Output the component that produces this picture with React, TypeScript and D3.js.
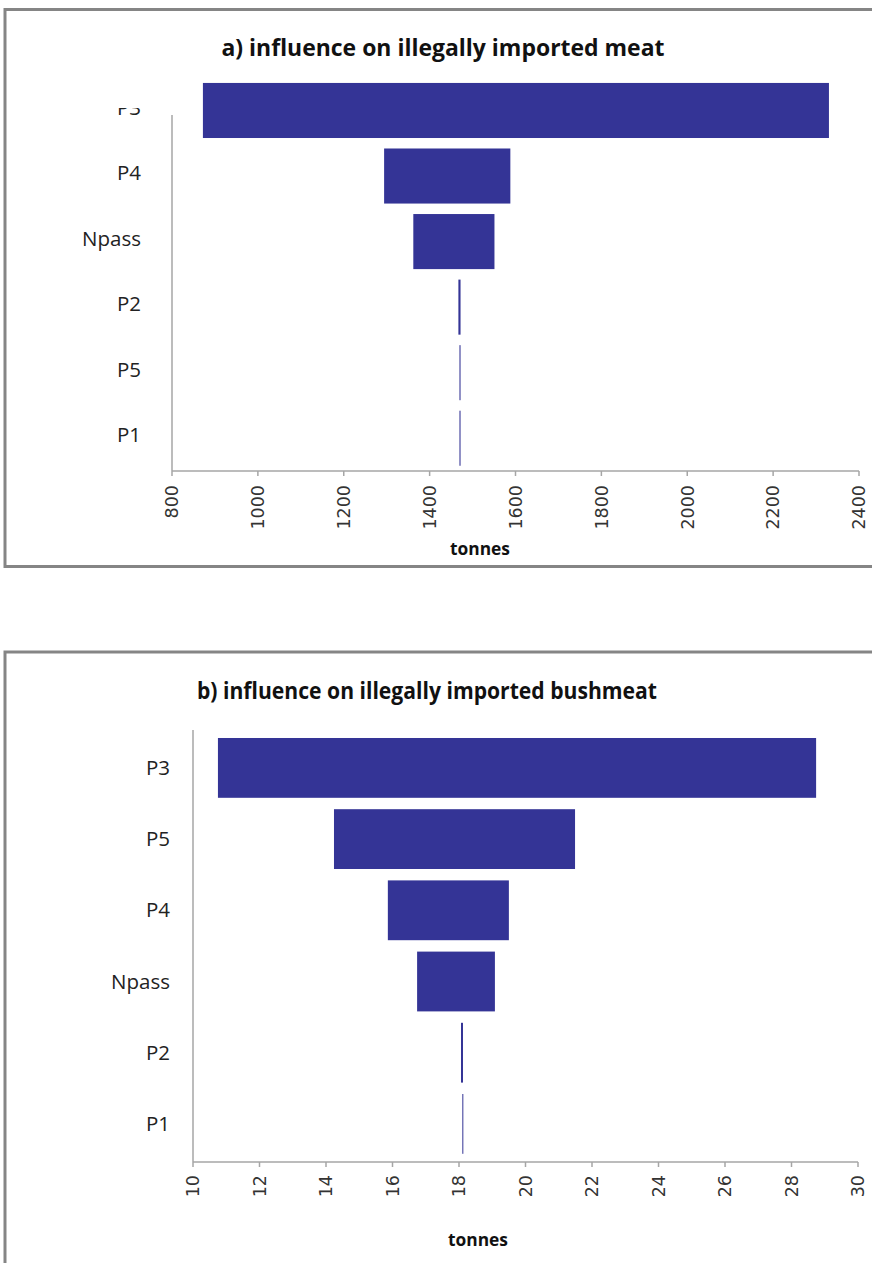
import React from "react";
import * as d3 from "d3";

// ---- Data ----
const meatParams = ["P3", "P4", "Npass", "P2", "P5", "P1"];
const meatLow = [872, 1294, 1362, 1467, 1469.5, 1469.5];
const meatHigh = [2330, 1588, 1551, 1472, 1472, 1472];
const meatTicks = [800, 1000, 1200, 1400, 1600, 1800, 2000, 2200, 2400];

const bushParams = ["P3", "P5", "P4", "Npass", "P2", "P1"];
const bushLow = [10.75, 14.24, 15.86, 16.74, 18.06, 18.1];
const bushHigh = [28.74, 21.49, 19.5, 19.08, 18.12, 18.13];
const bushTicks = [10, 12, 14, 16, 18, 20, 22, 24, 26, 28, 30];

const BAR = "#343496";
const AXIS = "#a6a6a6";
const BORDER = "#858585";

type PanelProps = {
  title: string;
  titleX: number;
  titleY: number;
  titleLen: number;
  params: string[];
  low: number[];
  high: number[];
  ticks: number[];
  xDomain: [number, number];
  xRange: [number, number];
  yRange: [number, number];
  axisY: number;
  axisTop: number;
  labelX: number;
  labelShift: number;
  tickLabelGap: number;
  unitY: number;
  unitX: number;
  clipTop?: number;
  id: string;
};

function Panel(p: PanelProps) {
  const x = d3.scaleLinear().domain(p.xDomain).range(p.xRange);
  const y = d3
    .scaleBand<string>()
    .domain(p.params)
    .range(p.yRange)
    .paddingInner(0.16)
    .paddingOuter(0.08);
  const [x0, x1] = p.xRange;
  return (
    <g>
      <text
        x={p.titleX}
        y={p.titleY}
        textAnchor="middle"
        fontFamily="'Open Sans', sans-serif"
        fontWeight={700}
        fontSize={24}
        fill="#111"
        textLength={p.titleLen}
        lengthAdjust="spacingAndGlyphs"
      >
        {p.title}
      </text>
      {p.clipTop !== undefined && (
        <clipPath id={p.id + "-clip"}>
          <rect x={0} y={p.clipTop} width={872} height={2000} />
        </clipPath>
      )}
      {p.params.map((name) => (
        <text
          key={"l" + name}
          x={p.labelX}
          y={(y(name) as number) + y.bandwidth() / 2 + p.labelShift}
          dy="0.35em"
          textAnchor="end"
          fontFamily="'Open Sans', sans-serif"
          fontSize={20.5}
          fill="#222"
          clipPath={p.clipTop !== undefined ? `url(#${p.id}-clip)` : undefined}
        >
          {name}
        </text>
      ))}
      <line x1={x0} x2={x0} y1={p.axisTop} y2={p.axisY} stroke={AXIS} strokeWidth={1.5} />
      <line x1={x0} x2={x1} y1={p.axisY} y2={p.axisY} stroke={AXIS} strokeWidth={1.5} />
      {p.ticks.map((t) => (
        <g key={"t" + t}>
          <line x1={x(t)} x2={x(t)} y1={p.axisY} y2={p.axisY + 5} stroke={AXIS} strokeWidth={1.5} />
          <text
            transform={`translate(${x(t)},${p.axisY + p.tickLabelGap}) rotate(-90)`}
            textAnchor="end"
            dy="0.36em"
            fontFamily="'DejaVu Sans', sans-serif"
            fontSize={17.5}
            fill="#333"
          >
            {t}
          </text>
        </g>
      ))}
      {p.params.map((name, i) => (
        <rect
          key={"b" + name}
          x={x(p.low[i])}
          y={y(name) as number}
          width={x(p.high[i]) - x(p.low[i])}
          height={y.bandwidth()}
          fill={BAR}
        />
      ))}
      <text
        x={p.unitX}
        y={p.unitY}
        textAnchor="middle"
        fontFamily="'Open Sans', sans-serif"
        fontWeight={700}
        fontSize={17}
        fill="#111"
        textLength={60}
        lengthAdjust="spacingAndGlyphs"
      >
        tonnes
      </text>
    </g>
  );
}

export default function App() {
  return (
    <svg
      width={872}
      height={1263}
      style={{ position: "absolute", left: 0, top: 0, display: "block", background: "#fff" }}
    >
      <rect x={0} y={0} width={872} height={1263} fill="#fff" />
      <rect x={5} y={9.5} width={900} height={557} fill="none" stroke={BORDER} strokeWidth={3} />
      <rect x={5} y={652} width={900} height={700} fill="none" stroke={BORDER} strokeWidth={3} />
      <Panel
        id="a"
        title="a) influence on illegally imported meat"
        titleX={443}
        titleY={56}
        titleLen={443}
        params={meatParams}
        low={meatLow}
        high={meatHigh}
        ticks={meatTicks}
        xDomain={[800, 2400]}
        xRange={[172, 859]}
        yRange={[77.7, 471]}
        axisY={471}
        axisTop={115}
        labelX={141}
        labelShift={-3}
        tickLabelGap={14}
        unitY={555}
        unitX={480}
        clipTop={108}
      />
      <Panel
        id="b"
        title="b) influence on illegally imported bushmeat"
        titleX={427}
        titleY={699}
        titleLen={460}
        params={bushParams}
        low={bushLow}
        high={bushHigh}
        ticks={bushTicks}
        xDomain={[10, 30]}
        xRange={[193, 858]}
        yRange={[732.3, 1159.5]}
        axisY={1162}
        axisTop={730}
        labelX={170}
        labelShift={0}
        tickLabelGap={13}
        unitY={1246}
        unitX={478}
      />
    </svg>
  );
}
